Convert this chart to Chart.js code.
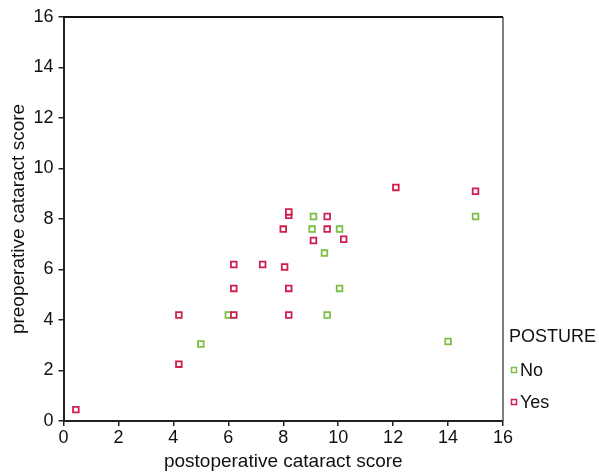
<!DOCTYPE html>
<html>
<head>
<meta charset="utf-8">
<script src="https://cdn.jsdelivr.net/npm/chart.js@4.4.1/dist/chart.umd.min.js"></script>
<style>
html,body{margin:0;padding:0;background:#fff;}
#wrap{position:relative;width:599px;height:473px;}
</style>
</head>
<body>
<div id="wrap"><canvas id="c" width="599" height="473"></canvas></div>
<script>
const xTicks = [0, 2, 4, 6, 8, 10, 12, 14, 16];
const yTicks = [0, 2, 4, 6, 8, 10, 12, 14, 16];
const seriesNames = ["No", "Yes"];
const noX = [5.0, 6.0, 9.1, 9.05, 10.05, 9.5, 10.05, 9.6, 15.0, 14.0];
const noY = [3.05, 4.2, 8.1, 7.6, 7.6, 6.65, 5.25, 4.2, 8.1, 3.15];
const yesX = [0.45, 4.2, 4.2, 6.2, 6.2, 6.2, 7.25, 8.2, 8.2, 8.0, 8.05, 8.2, 8.2, 9.6, 9.6, 9.1, 10.2, 12.1, 15.0];
const yesY = [0.45, 4.2, 2.25, 4.2, 5.25, 6.2, 6.2, 8.15, 8.28, 7.6, 6.1, 5.25, 4.2, 8.1, 7.6, 7.15, 7.2, 9.25, 9.1];

const GREEN = '#7bbf45';
const RED = '#cf1f4e';
const FONT = "'Liberation Sans', Arial, Helvetica, sans-serif";

function pts(xs, ys){ return xs.map((x,i)=>({x:x, y:ys[i]})); }

const framePlugin = {
  id: 'frame',
  afterDraw(chart){
    const {ctx, chartArea:a} = chart;
    ctx.save();
    ctx.strokeStyle = '#555';
    ctx.lineWidth = 1.5;
    ctx.beginPath();
    ctx.moveTo(a.right, a.top); ctx.lineTo(a.right, a.bottom);
    ctx.stroke();
    ctx.strokeStyle = '#111';
    ctx.lineWidth = 2;
    ctx.beginPath();
    ctx.moveTo(a.left, a.top); ctx.lineTo(a.right, a.top);
    ctx.stroke();
    // legend
    ctx.fillStyle = '#111';
    ctx.font = "18px " + FONT;
    ctx.textBaseline = 'middle';
    ctx.textAlign = 'left';
    ctx.fillText('POSTURE', 509, 337);
    const items = [[seriesNames[0], GREEN, 370], [seriesNames[1], RED, 402]];
    items.forEach(([t, c, y]) => {
      ctx.strokeStyle = c;
      ctx.lineWidth = 1.5;
      ctx.fillStyle = '#fff';
      ctx.beginPath();
      ctx.rect(511.5, y - 2.5, 5, 5);
      ctx.fill();
      ctx.stroke();
      ctx.fillStyle = '#111';
      ctx.fillText(t, 520, y + 1);
    });
    ctx.restore();
  }
};

new Chart(document.getElementById('c'), {
  type: 'scatter',
  data: {
    datasets: [
      { label: seriesNames[0], data: pts(noX, noY), order: 1,
        pointStyle: 'rect', pointRadius: 4, pointHoverRadius: 4,
        borderColor: GREEN, backgroundColor: '#fff', borderWidth: 1.8 },
      { label: seriesNames[1], data: pts(yesX, yesY), order: 0,
        pointStyle: 'rect', pointRadius: 4, pointHoverRadius: 4,
        borderColor: RED, backgroundColor: '#fff', borderWidth: 1.8 }
    ]
  },
  options: {
    responsive: false,
    animation: false,
    events: [],
    layout: { padding: { top: 17, right: 96, left: 0, bottom: 0 } },
    plugins: { legend: { display: false }, tooltip: { enabled: false } },
    scales: {
      x: {
        type: 'linear', min: 0, max: 16,
        afterBuildTicks(s){ s.ticks = xTicks.map(v=>({value:v})); },
        afterFit(s){ s.height = 52; },
        border: { display: true, color: '#222', width: 2 },
        grid: { display: true, drawOnChartArea: false, drawTicks: true, tickLength: 5, color: '#222', lineWidth: 1.5 },
        ticks: { color: '#111', font: { size: 18, family: FONT }, padding: 1, maxRotation: 0 },
        title: { display: true, text: 'postoperative cataract score', color: '#111',
                 font: { size: 19, family: FONT }, padding: { top: 0, bottom: 0 } }
      },
      y: {
        type: 'linear', min: 0, max: 16,
        afterBuildTicks(s){ s.ticks = yTicks.map(v=>({value:v})); },
        afterFit(s){ s.width = 63.5; },
        border: { display: true, color: '#222', width: 2 },
        grid: { display: true, drawOnChartArea: false, drawTicks: true, tickLength: 5, color: '#222', lineWidth: 1.5 },
        ticks: { color: '#111', font: { size: 18, family: FONT }, padding: 5 },
        title: { display: true, text: 'preoperative cataract score', color: '#111',
                 font: { size: 19, family: FONT }, padding: { top: 7, bottom: 0 } }
      }
    }
  },
  plugins: [framePlugin]
});
</script>
</body>
</html>
